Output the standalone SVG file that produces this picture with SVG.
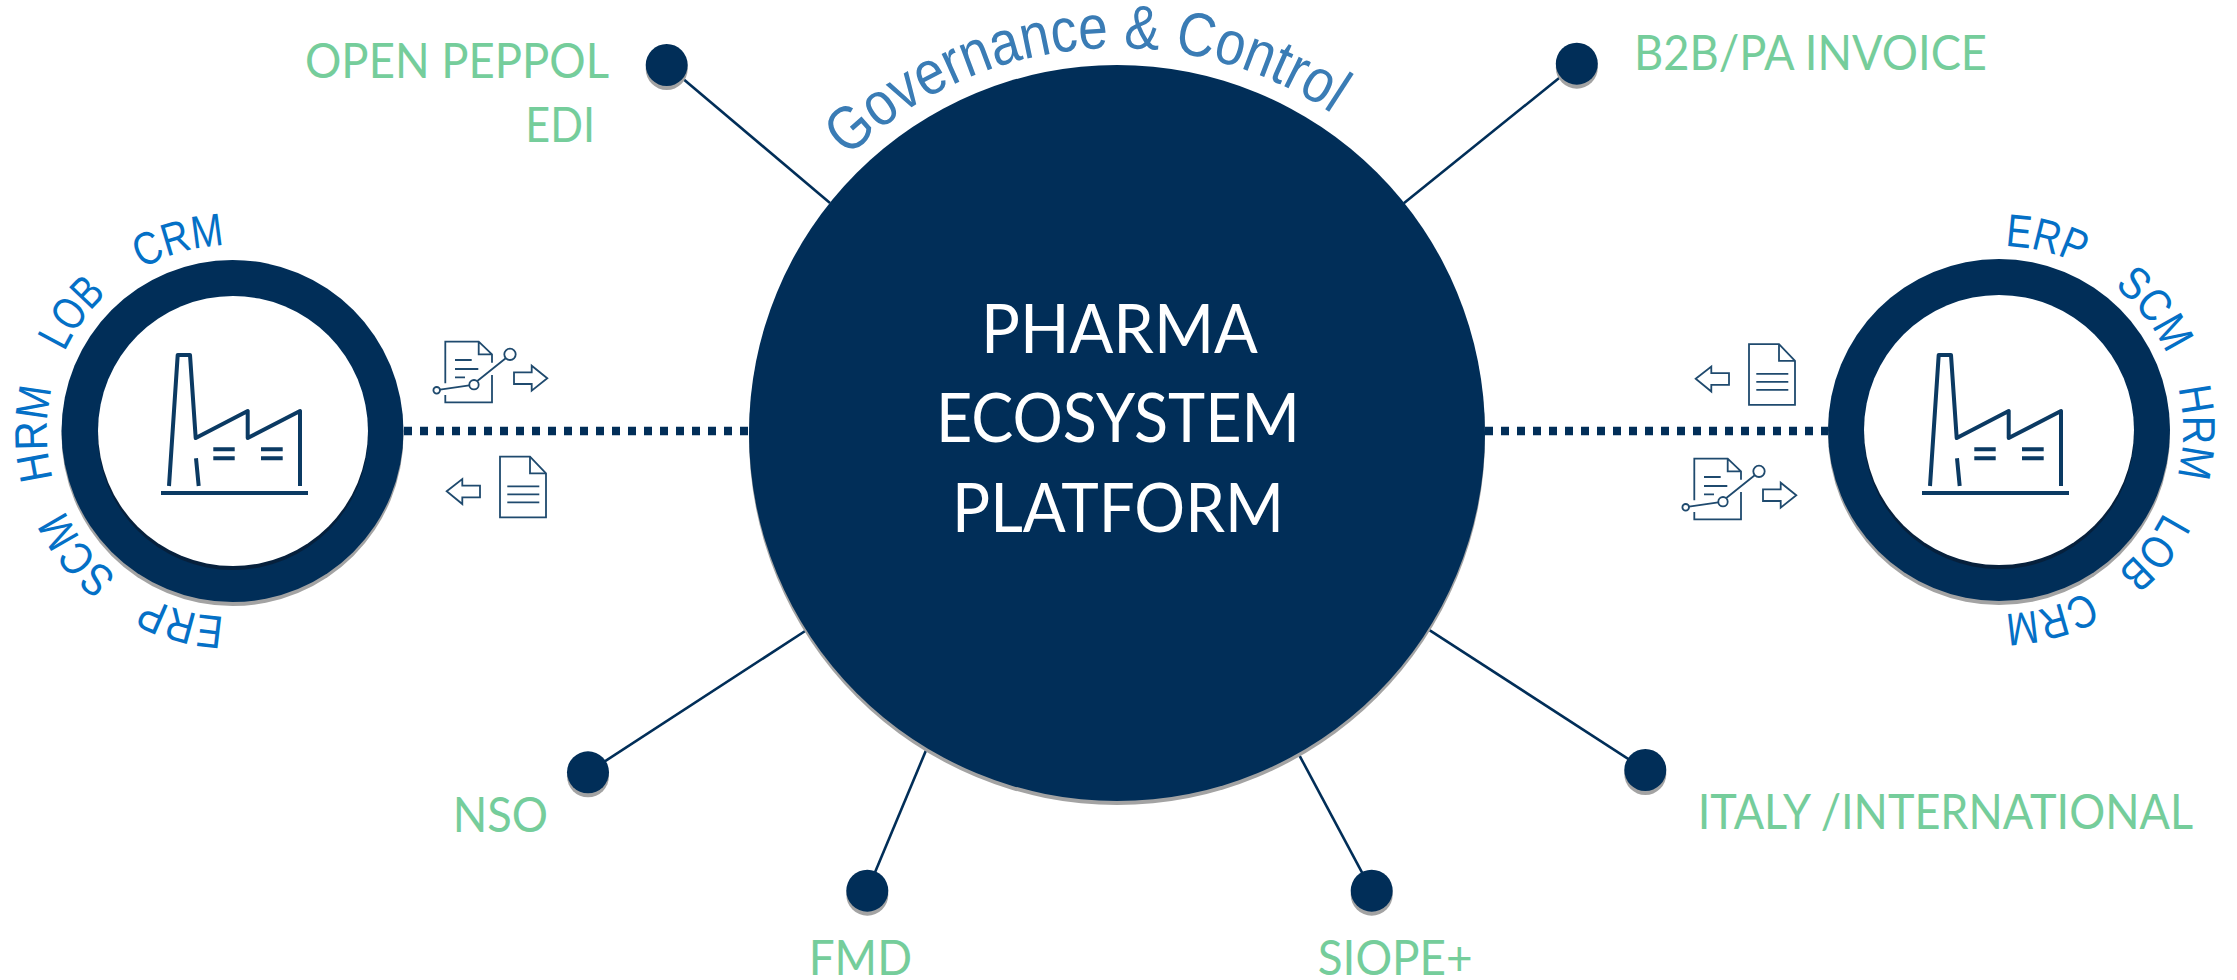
<svg xmlns="http://www.w3.org/2000/svg" xmlns:xlink="http://www.w3.org/1999/xlink" width="2237" height="980" viewBox="0 0 2237 980">
<style>
.navy{fill:#012e58}
.shadow{fill:#a3a3a3}
.inner-shadow{fill:#06203c}
.hole{fill:#fff}
.link{stroke:#012e58;stroke-width:2.6;fill:none}
.bus{stroke:#012e58;stroke-width:8.5;stroke-dasharray:8 8;fill:none}
.label{font-family:"Lato","Liberation Sans",sans-serif;font-size:48px;fill:#75cd9b}
.title{font-family:"Lato","Liberation Sans",sans-serif;font-size:68px;fill:#fff}
.app{font-family:"Liberation Sans",Arial,sans-serif;font-size:46px;fill:#0470c6}
.gov{font-family:"Liberation Sans",Arial,sans-serif;font-size:62px;fill:#3a7cb5}
.fac{fill:none;stroke:#0b3a63;stroke-width:4;stroke-linejoin:round}
.ico{fill:none;stroke:#1f4a6e;stroke-width:1.8;stroke-linejoin:miter}
</style>
<defs>
<path id="ringL" d="M233,245A186,186 0 1 1 233,617A186,186 0 1 1 233,245"/>
<path id="ringR" d="M1999,246A184,184 0 1 1 1999,614A184,184 0 1 1 1999,246"/>
<path id="govArc" d="M822.1,185.5A385,385 0 0 1 1364.5,138.1"/>
<g id="factory">
<path class="fac" d="M169,486L177.7,355H190L195.7,438L247.7,411V438L300,411V486"/>
<path class="fac" d="M196,458.3L198.7,486M213.3,449.3H234.7M213.3,458.3H234.7M261,449.3H282.7M261,458.3H282.7"/>
<path class="fac" d="M161,493H308"/>
</g>
<g id="chartDoc">
<path class="ico" d="M445.3,395V402.3H492V375M492,362.7V354.3L478.7,341.7H445.3V383.3M478.7,341.7V354.3H492"/>
<path class="ico" d="M455,360H471.7M455,369H478.3M455,377.3H465"/>
<circle class="ico" cx="436.7" cy="390.3" r="3.3"/>
<circle class="ico" cx="474" cy="384.7" r="4.7"/>
<circle class="ico" cx="510" cy="354.3" r="5.7"/>
<path class="ico" d="M440,389.7L469.3,385.3M477.3,381L505.7,358.3"/>
<path class="ico" d="M514,372.3H531.7V365.7L547.3,378.3L531.7,390.7V384H514Z"/>
</g>
<g id="plainDoc">
<path class="ico" d="M500,456.7H530L546,473.3V517.3H500Z"/>
<path class="ico" d="M530,456.7V473.3H546M507.3,486.3H539.3M507.3,494.3H539.3M507.3,502.3H539.3"/>
<path class="ico" d="M446.7,491.3L462.3,479V485.7H480V497.3H462.3V504Z"/>
</g>
</defs>
<rect width="2237" height="980" fill="#fff"/>
<g id="connectors">
<path class="link" d="M666.7,65L830,203"/>
<path class="link" d="M1576.8,63.7L1403.8,203.3"/>
<path class="link" d="M588,772.3L806.7,630"/>
<path class="link" d="M867.3,890.7L927.3,747.3"/>
<path class="link" d="M1371.7,890.7L1298.3,753.3"/>
<path class="link" d="M1645.3,770L1428.3,629.3"/>
<path class="bus" d="M404,431H749"/>
<path class="bus" d="M1485,431H1828"/>
</g>
<g id="platform">
<circle class="shadow" cx="1117" cy="437" r="368"/>
<circle class="navy" cx="1117" cy="433" r="368"/>
<text class="title" x="981" y="352.7" textLength="277" lengthAdjust="spacingAndGlyphs">PHARMA</text>
<text class="title" x="936" y="442.3" textLength="364" lengthAdjust="spacingAndGlyphs">ECOSYSTEM</text>
<text class="title" x="952" y="531.7" textLength="332" lengthAdjust="spacingAndGlyphs">PLATFORM</text>
<text class="gov"><textPath href="#govArc" startOffset="38" textLength="526" lengthAdjust="spacingAndGlyphs">Governance &amp; Control</textPath></text>
</g>
<g id="company-left">
<circle class="shadow" cx="232.5" cy="435" r="171"/>
<circle class="navy" cx="232.5" cy="431" r="171"/>
<circle class="inner-shadow" cx="233" cy="435" r="135"/>
<circle class="hole" cx="233" cy="431" r="135"/>
<use href="#factory"/>
<text class="app"><textPath href="#ringL" startOffset="593" textLength="81" lengthAdjust="spacingAndGlyphs">ERP</textPath></text>
<text class="app"><textPath href="#ringL" startOffset="709" textLength="86" lengthAdjust="spacingAndGlyphs">SCM</textPath></text>
<text class="app"><textPath href="#ringL" startOffset="828" textLength="92" lengthAdjust="spacingAndGlyphs">HRM</textPath></text>
<text class="app"><textPath href="#ringL" startOffset="958" textLength="72" lengthAdjust="spacingAndGlyphs">LOB</textPath></text>
<text class="app"><textPath href="#ringL" startOffset="1073" textLength="87" lengthAdjust="spacingAndGlyphs">CRM</textPath></text>
<use href="#chartDoc"/>
<use href="#plainDoc"/>
</g>
<g id="company-right">
<circle class="shadow" cx="1999" cy="434" r="171"/>
<circle class="navy" cx="1999" cy="430" r="171"/>
<circle class="inner-shadow" cx="1999" cy="434" r="135"/>
<circle class="hole" cx="1999" cy="430" r="135"/>
<use href="#factory" x="1761"/>
<text class="app"><textPath href="#ringR" startOffset="6" textLength="78" lengthAdjust="spacingAndGlyphs">ERP</textPath></text>
<text class="app"><textPath href="#ringR" startOffset="124" textLength="87" lengthAdjust="spacingAndGlyphs">SCM</textPath></text>
<text class="app"><textPath href="#ringR" startOffset="246" textLength="90" lengthAdjust="spacingAndGlyphs">HRM</textPath></text>
<text class="app"><textPath href="#ringR" startOffset="374" textLength="76" lengthAdjust="spacingAndGlyphs">LOB</textPath></text>
<text class="app"><textPath href="#ringR" startOffset="485" textLength="87" lengthAdjust="spacingAndGlyphs">CRM</textPath></text>
<use href="#chartDoc" x="1249" y="117"/>
<use href="#plainDoc" x="1249" y="-112.5"/>
</g>
<g id="node-peppol">
<circle class="shadow" cx="666.7" cy="69" r="21"/>
<circle class="navy" cx="666.7" cy="65" r="21"/>
<text class="label" x="305" y="78.3" textLength="304" lengthAdjust="spacingAndGlyphs">OPEN PEPPOL</text>
<text class="label" x="525.3" y="142.3" textLength="69.7" lengthAdjust="spacingAndGlyphs">EDI</text>
</g>
<g id="node-b2b">
<circle class="shadow" cx="1576.8" cy="67.7" r="21"/>
<circle class="navy" cx="1576.8" cy="63.7" r="21"/>
<text class="label" x="1634" y="70" textLength="353" lengthAdjust="spacingAndGlyphs">B2B/PA INVOICE</text>
</g>
<g id="node-nso">
<circle class="shadow" cx="588" cy="776.3" r="21"/>
<circle class="navy" cx="588" cy="772.3" r="21"/>
<text class="label" x="452.7" y="832.3" textLength="95.3" lengthAdjust="spacingAndGlyphs">NSO</text>
</g>
<g id="node-fmd">
<circle class="shadow" cx="867.3" cy="894.7" r="21"/>
<circle class="navy" cx="867.3" cy="890.7" r="21"/>
<text class="label" x="808.7" y="975" textLength="103.3" lengthAdjust="spacingAndGlyphs">FMD</text>
</g>
<g id="node-siope">
<circle class="shadow" cx="1371.7" cy="894.7" r="21"/>
<circle class="navy" cx="1371.7" cy="890.7" r="21"/>
<text class="label" x="1317.7" y="975" textLength="155" lengthAdjust="spacingAndGlyphs">SIOPE+</text>
</g>
<g id="node-italy">
<circle class="shadow" cx="1645.3" cy="774" r="21"/>
<circle class="navy" cx="1645.3" cy="770" r="21"/>
<text class="label" x="1697.7" y="829" textLength="495.3" lengthAdjust="spacingAndGlyphs">ITALY /INTERNATIONAL</text>
</g>
</svg>
